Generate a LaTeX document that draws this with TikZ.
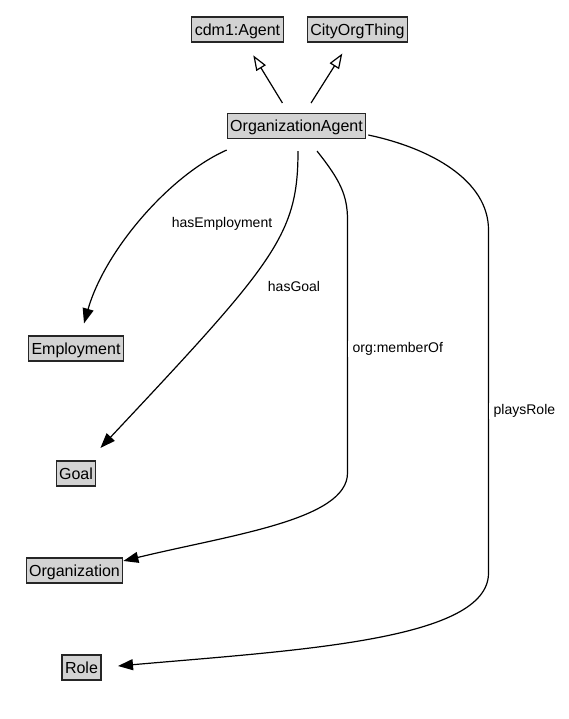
\documentclass[tikz,border=0pt]{standalone}
\usepackage{fontspec}
\setmainfont{Liberation Sans}
\usetikzlibrary{arrows.meta, calc}
\definecolor{boxgray}{RGB}{211,211,211}
\tikzset{
  cbox/.style={draw=black!85, fill=boxgray, line width=1.1pt, inner xsep=3pt, inner ysep=0pt,
    text height=11.5pt, text depth=0pt, minimum height=25pt, font=\fontsize{16}{19}\selectfont},
  elabel/.style={font=\fontsize{14}{17}\selectfont, inner sep=1pt},
  isa/.style={-{Triangle[open, length=15pt, width=11pt]}, line width=1.2pt},
  rel/.style={-{Triangle[length=15pt, width=11pt]}, line width=1.2pt}
}

\begin{document}
\begin{tikzpicture}[x=1pt, y=-1pt]
	\useasboundingbox (0,0) rectangle (568,719);
	\draw (237.5,29.5) node[cbox] (agent) {cdm1:Agent}
		(357.5,29.5) node[cbox] (cityorg) {CityOrgThing}
		(296.5,126) node[cbox] (orgagent) {OrganizationAgent}
		(76,348.5) node[cbox] (employment) {Employment}
		(76,473.5) node[cbox] (goal) {Goal}
		(74.5,570.5) node[cbox] (organization) {Organization}
		(81.5,667.5) node[cbox] (role) {Role};

	\draw[isa, shorten <=11.7pt, shorten >=15pt] (orgagent) -- (agent);
	\draw[isa, shorten <=11.8pt, shorten >=13pt] (orgagent) -- (cityorg);

	\draw[rel] ($(orgagent.south west)+(0,11)$) .. controls (170,175) and (105,250) .. ($(employment.north)+(8,-12)$);
	\draw[rel] ($(orgagent.south)+(1.5,12)$) .. controls (298,235) and (275,262) .. ($(goal.north east)+(4,-12.5)$);
	\draw[rel] ($(orgagent.south)+(20.5,12)$) .. controls (340,180) and (347.5,195) .. (347.5,220)
		-- (347.5,473) .. controls (347.5,520) and (230,535) .. ($(organization.north east)+(0,3.5)$);
	\draw[rel] ($(orgagent.east)+(2,9)$) .. controls (430,148) and (488.5,180) .. (488.5,230)
		-- (488.5,573) .. controls (488.5,640) and (300,650) .. ($(role.east)+(16.5,-1.5)$);

	\node[elabel] (lemployment) at (222,224) {hasEmployment};
	\node[elabel] (lgoal) at (294,286) {hasGoal};
	\node[elabel, fill=white, anchor=west, inner xsep=5pt] (lmember) at (347.5,349) {org:memberOf};
	\node[elabel, fill=white, anchor=west, inner xsep=5pt] (lrole) at (488.5,411) {playsRole};
\end{tikzpicture}
\end{document}
